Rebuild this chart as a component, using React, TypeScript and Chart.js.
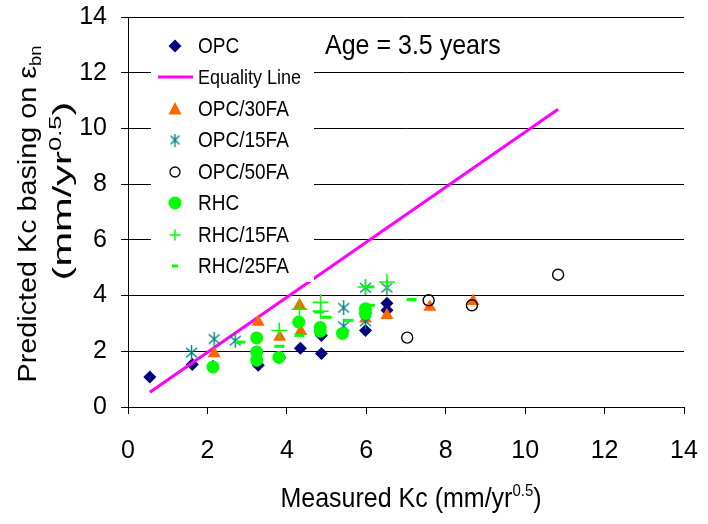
import React, { useEffect, useRef } from 'react';
import { Chart, registerables } from 'chart.js';

Chart.register(...registerables);

const opcX = [0.55, 1.62, 2.14, 3.28, 3.82, 4.34, 4.87, 4.87, 5.98, 6.52, 6.52];
const opcY = [1.08, 1.53, 1.46, 1.50, 1.78, 2.11, 1.92, 2.57, 2.75, 3.72, 3.47];

const eqX = [0.55, 10.83];
const eqY = [0.53, 10.69];

const fa30X = [2.17, 3.28, 3.82, 4.32, 4.35, 5.98, 6.52, 7.60, 8.69];
const fa30Y = [1.92, 3.05, 2.51, 3.65, 2.72, 3.17, 3.29, 3.59, 3.80];

const fa15X = [1.60, 2.17, 2.70, 5.43, 5.43, 5.98, 5.98, 6.52];
const fa15Y = [1.95, 2.44, 2.38, 3.56, 2.90, 4.28, 3.08, 4.28];

const fa50X = [7.03, 7.57, 8.66, 10.83];
const fa50Y = [2.49, 3.83, 3.65, 4.75];

const rhcX = [2.14, 3.24, 3.24, 3.24, 3.80, 4.30, 4.84, 4.84, 5.40, 5.98, 5.98];
const rhcY = [1.44, 2.48, 1.97, 1.68, 1.78, 3.05, 2.85, 2.72, 2.64, 3.53, 3.36];

const r15X = [3.81, 4.32, 4.85, 4.85, 5.98, 6.52];
const r15Y = [2.75, 3.51, 3.76, 3.44, 4.31, 4.49];

const r25X = [2.83, 3.27, 3.81, 4.32, 4.81, 5.00, 5.55, 6.09, 6.08, 7.14];
const r25Y = [2.33, 2.50, 2.18, 2.57, 3.41, 3.22, 3.11, 3.65, 4.31, 3.86];

const xTicks = [0, 2, 4, 6, 8, 10, 12, 14];
const yTicks = [0, 2, 4, 6, 8, 10, 12, 14];

const seriesNames = ['OPC', 'Equality Line', 'OPC/30FA', 'OPC/15FA', 'OPC/50FA', 'RHC', 'RHC/15FA', 'RHC/25FA'];
const xTitle = 'Measured Kc (mm/yr';
const yTitle1 = 'Predicted Kc basing on ';
const ageText = 'Age = 3.5 years';

const FONT = '"Liberation Sans", Arial, sans-serif';
const NAVY = '#000080';
const ORANGE = '#FF6600';
const TEAL = '#008080';
const GREEN = '#00FF00';
const MAGENTA = '#FF00FF';

function pts(xs: number[], ys: number[]) {
  return xs.map((x, i) => ({ x, y: ys[i] }));
}

function makeAsterisk(color: string, w: number, h: number) {
  const c = document.createElement('canvas');
  c.width = w;
  c.height = h;
  const g = c.getContext('2d')!;
  g.strokeStyle = color;
  g.lineWidth = 1.4;
  g.beginPath();
  g.moveTo(w / 2, 0);
  g.lineTo(w / 2, h);
  g.moveTo(1, h * 0.18);
  g.lineTo(w - 1, h * 0.82);
  g.moveTo(w - 1, h * 0.18);
  g.lineTo(1, h * 0.82);
  g.stroke();
  return c;
}

type Part = { t: string; size: number; dy?: number };

function drawRich(ctx: CanvasRenderingContext2D, parts: Part[], cx: number, baseY: number) {
  let total = 0;
  for (const p of parts) {
    ctx.font = `${p.size}px ${FONT}`;
    total += ctx.measureText(p.t).width;
  }
  let x = cx - total / 2;
  ctx.textAlign = 'left';
  ctx.textBaseline = 'alphabetic';
  for (const p of parts) {
    ctx.font = `${p.size}px ${FONT}`;
    ctx.fillText(p.t, x, baseY + (p.dy || 0));
    x += ctx.measureText(p.t).width;
  }
}

function stretchedText(ctx: CanvasRenderingContext2D, text: string, x: number, y: number, size: number, sy: number) {
  ctx.save();
  ctx.translate(x, y);
  ctx.scale(1, sy);
  ctx.font = `${size}px ${FONT}`;
  ctx.textAlign = 'left';
  ctx.textBaseline = 'middle';
  ctx.fillText(text, 0, 0);
  ctx.restore();
}

export default function App() {
  const ref = useRef<HTMLCanvasElement | null>(null);

  useEffect(() => {
    const canvas = ref.current!;
    const asterisk = makeAsterisk(TEAL, 13, 15);
    const asteriskLegend = makeAsterisk(TEAL, 11, 13);

    const overlay = {
      id: 'overlay',
      afterDatasetsDraw(chart: any) {
        const ctx: CanvasRenderingContext2D = chart.ctx;
        ctx.save();
        ctx.fillStyle = '#ffffff';
        ctx.fillRect(151, 25, 163, 257);
        const mx = 175;
        const tx = 198;
        const ys = [46, 77, 109, 140, 172, 203, 235, 266];
        ys.forEach((y, i) => {
          ctx.save();
          if (i === 0) {
            ctx.fillStyle = NAVY;
            ctx.beginPath();
            ctx.moveTo(mx, y - 6.5);
            ctx.lineTo(mx + 6.5, y);
            ctx.lineTo(mx, y + 6.5);
            ctx.lineTo(mx - 6.5, y);
            ctx.closePath();
            ctx.fill();
          } else if (i === 1) {
            ctx.strokeStyle = MAGENTA;
            ctx.lineWidth = 3;
            ctx.beginPath();
            ctx.moveTo(158, y);
            ctx.lineTo(193, y);
            ctx.stroke();
          } else if (i === 2) {
            ctx.fillStyle = ORANGE;
            ctx.beginPath();
            ctx.moveTo(mx, y - 7);
            ctx.lineTo(mx + 6.5, y + 5.5);
            ctx.lineTo(mx - 6.5, y + 5.5);
            ctx.closePath();
            ctx.fill();
          } else if (i === 3) {
            ctx.drawImage(asteriskLegend, mx - 5.5, y - 6.5);
          } else if (i === 4) {
            ctx.strokeStyle = '#000';
            ctx.lineWidth = 1.3;
            ctx.beginPath();
            ctx.arc(mx, y, 5, 0, Math.PI * 2);
            ctx.stroke();
          } else if (i === 5) {
            ctx.fillStyle = GREEN;
            ctx.beginPath();
            ctx.arc(mx, y, 6.5, 0, Math.PI * 2);
            ctx.fill();
          } else if (i === 6) {
            ctx.strokeStyle = GREEN;
            ctx.lineWidth = 1.5;
            ctx.beginPath();
            ctx.moveTo(mx - 5.5, y);
            ctx.lineTo(mx + 5.5, y);
            ctx.moveTo(mx, y - 5.5);
            ctx.lineTo(mx, y + 5.5);
            ctx.stroke();
          } else {
            ctx.strokeStyle = GREEN;
            ctx.lineWidth = 3;
            ctx.beginPath();
            ctx.moveTo(mx - 3, y);
            ctx.lineTo(mx + 3, y);
            ctx.stroke();
          }
          ctx.restore();
          ctx.fillStyle = '#000';
          stretchedText(ctx, seriesNames[i], tx, y + 1, i === 1 ? 18 : 19, 1.15);
        });
        ctx.fillStyle = '#000';
        stretchedText(ctx, ageText, 325, 46, 25, 1.12);
        ctx.restore();
      },
      afterDraw(chart: any) {
        const ctx: CanvasRenderingContext2D = chart.ctx;
        ctx.save();
        ctx.fillStyle = '#000';
        // x title
        ctx.save();
        ctx.translate(0, 507);
        ctx.scale(1, 1.12);
        drawRich(ctx, [
          { t: xTitle, size: 25 },
          { t: '0.5', size: 15, dy: -10 },
          { t: ')', size: 25 },
        ], 411, 0);
        ctx.restore();
        // y title line 1
        ctx.save();
        ctx.translate(36, 214);
        ctx.scale(1, 1.15);
        ctx.rotate(-Math.PI / 2);
        drawRich(ctx, [
          { t: yTitle1, size: 25 },
          { t: 'ε', size: 25 },
          { t: 'bn', size: 16, dy: 5 },
        ], 0, 0);
        ctx.restore();
        // y title line 2
        ctx.save();
        ctx.translate(71, 191);
        ctx.scale(1, 1.6);
        ctx.rotate(-Math.PI / 2);
        drawRich(ctx, [
          { t: '(mm/yr', size: 26 },
          { t: '0.5', size: 16, dy: -10 },
          { t: ')', size: 26 },
        ], 0, 0);
        ctx.restore();
        ctx.restore();
      },
    };

    const n = 8;
    const chart = new Chart(canvas, {
      type: 'scatter',
      data: {
        datasets: [
          {
            label: seriesNames[0], data: pts(opcX, opcY), order: n - 0,
            pointStyle: 'rectRot', pointRadius: 6.5, backgroundColor: NAVY, borderColor: NAVY, borderWidth: 0,
          },
          {
            label: seriesNames[1], data: pts(eqX, eqY), order: n - 1, showLine: true,
            pointRadius: 0, borderColor: MAGENTA, borderWidth: 3, backgroundColor: MAGENTA,
          },
          {
            label: seriesNames[2], data: pts(fa30X, fa30Y), order: n - 2,
            pointStyle: 'triangle', pointRadius: 7.5, backgroundColor: ORANGE, borderColor: ORANGE, borderWidth: 0,
          },
          {
            label: seriesNames[3], data: pts(fa15X, fa15Y), order: n - 3,
            pointStyle: asterisk as any, pointRadius: 7, backgroundColor: TEAL, borderColor: TEAL,
          },
          {
            label: seriesNames[4], data: pts(fa50X, fa50Y), order: n - 4,
            pointStyle: 'circle', pointRadius: 5.5, backgroundColor: 'rgba(0,0,0,0)', borderColor: '#000', borderWidth: 1.4,
          },
          {
            label: seriesNames[5], data: pts(rhcX, rhcY), order: n - 5,
            pointStyle: 'circle', pointRadius: 6.5, backgroundColor: GREEN, borderColor: GREEN, borderWidth: 0,
          },
          {
            label: seriesNames[6], data: pts(r15X, r15Y), order: n - 6,
            pointStyle: 'cross', pointRadius: 8, backgroundColor: GREEN, borderColor: GREEN, borderWidth: 1.5,
          },
          {
            label: seriesNames[7], data: pts(r25X, r25Y), order: n - 7,
            pointStyle: 'line', pointRadius: 5, backgroundColor: GREEN, borderColor: GREEN, borderWidth: 3,
          },
        ],
      },
      options: {
        responsive: false,
        animation: false,
        events: [],
        layout: { padding: { left: 0, top: 17, right: 24, bottom: 0 } },
        plugins: {
          legend: { display: false },
          tooltip: { enabled: false },
          title: { display: false },
        },
        scales: {
          x: {
            type: 'linear',
            min: 0,
            max: 14,
            afterBuildTicks: (s: any) => { s.ticks = xTicks.map((v) => ({ value: v })); },
            afterFit: (s: any) => { s.height = 117; s.paddingLeft = 0; s.paddingRight = 0; },
            ticks: { color: '#000', font: { family: FONT, size: 25 }, padding: 22, maxRotation: 0 },
            grid: { drawOnChartArea: false, drawTicks: true, tickLength: 7, tickColor: '#000', color: '#000', lineWidth: 1 },
            border: { color: '#000', width: 1 },
          },
          y: {
            type: 'linear',
            min: 0,
            max: 14,
            afterBuildTicks: (s: any) => { s.ticks = yTicks.map((v) => ({ value: v })); },
            afterFit: (s: any) => { s.width = 128; s.paddingTop = 0; s.paddingBottom = 0; },
            ticks: { color: '#000', font: { family: FONT, size: 25 }, padding: 14 },
            grid: { drawTicks: true, tickLength: 7, tickColor: '#000', color: '#000', lineWidth: 1 },
            border: { color: '#000', width: 1 },
          },
        },
      },
      plugins: [overlay],
    } as any);

    return () => chart.destroy();
  }, []);

  return (
    <div style={{ position: 'absolute', left: 0, top: 0, width: 708, height: 524, background: '#fff' }}>
      <canvas ref={ref} width={708} height={524} style={{ display: 'block' }} />
    </div>
  );
}
